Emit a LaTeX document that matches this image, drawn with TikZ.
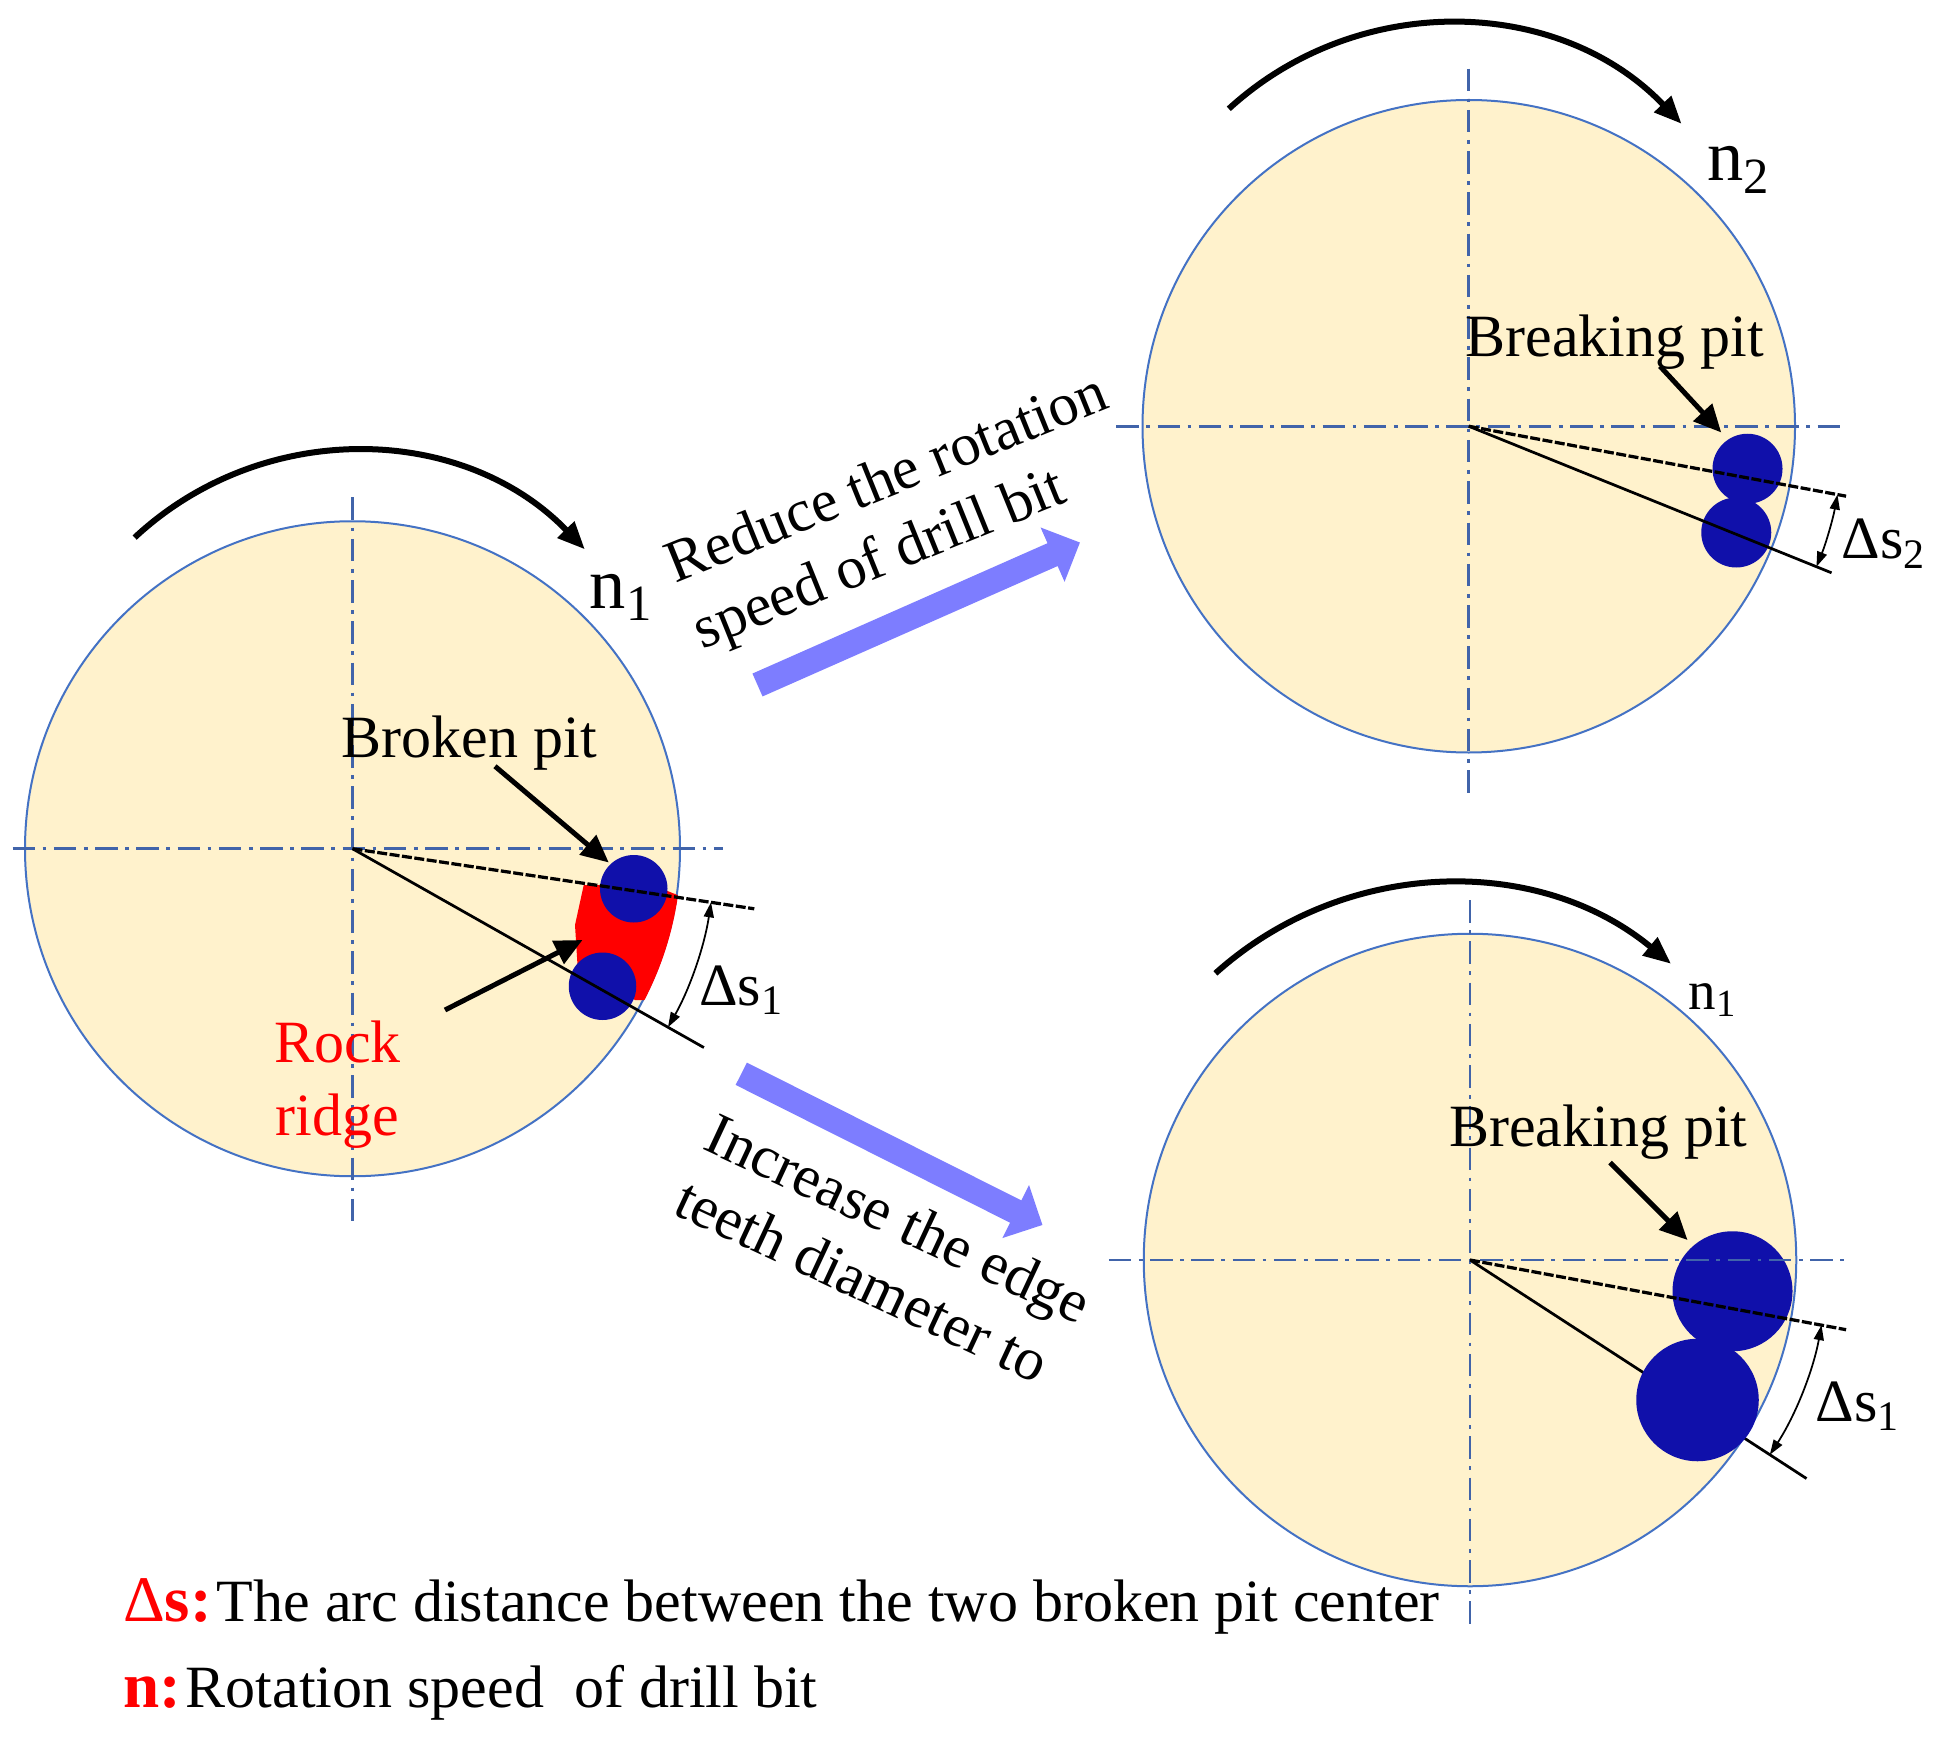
\documentclass[tikz,border=0pt]{standalone}
\usepackage{fontspec}
\setmainfont{Liberation Serif}
\usetikzlibrary{arrows.meta}
\definecolor{cream}{RGB}{255,242,204}
\definecolor{rim}{RGB}{68,114,196}
\definecolor{axisblue}{RGB}{65,100,170}
\definecolor{pitblue}{RGB}{16,16,170}
\definecolor{fatblue}{RGB}{125,125,255}
\newcommand\mylegkey{\fontsize{26}{28}\selectfont}
\begin{document}
\begin{tikzpicture}[x=0.5pt,y=-0.5pt,
  disk/.style={fill=cream, draw=rim, line width=0.8pt},
  centerline/.style={draw=axisblue, line width=1.1pt, dash pattern=on 9pt off 3pt on 1.5pt off 3pt},
  radial/.style={draw=black, line width=1.1pt},
  radialdash/.style={draw=black, line width=1.3pt, dash pattern=on 4pt off 1pt},
  pitfill/.style={fill=pitblue},
  rotarrow/.style={draw=black, line width=2.4pt, -{Triangle[length=11pt,width=9pt]}},
  lblarrow/.style={draw=black, line width=2pt, -{Triangle[length=11pt,width=10pt]}},
  dimarrow/.style={draw=black, line width=0.7pt, {Triangle[length=6pt,width=4pt]}-{Triangle[length=6pt,width=4pt]}},
  fatarrow/.style={draw=fatblue, line width=10pt, -{Triangle[length=12pt,width=23pt]}},
  txt/.style={font=\fontsize{24}{28.5}\selectfont, inner sep=0pt},
  bigtxt/.style={font=\fontsize{29}{32}\selectfont, inner sep=0pt},
]
\useasboundingbox (0,0) rectangle (1562.4,1390.4);

% ================= circle 1 =================
\coordinate (c1) at (282,679);
\draw[disk] (c1) circle[radius=262];
\begin{scope}
  \clip (c1) circle[radius=263];
  \fill[red] (467,708) -- (522,708) -- (552,720) -- (552,800) -- (508,800) -- (462,772) -- (460,740) -- cycle;
\end{scope}
\coordinate (p1a) at (507,711);
\coordinate (p1b) at (482,789);
\fill[pitfill] (p1a) circle[radius=27];
\fill[pitfill] (p1b) circle[radius=27];
\draw[centerline] (10,679) -- (578,679);
\draw[centerline] (282,398) -- (282,977);
\draw[radialdash] (c1) -- ++(8.5:325);
\draw[radial] (c1) -- ++(29.5:323);
\draw[dimarrow] (c1) ++(8.5:290) arc[start angle=8.5, end angle=29.5, radius=290];
\node[txt, anchor=base west] (ds1) at (559,804) {Δs\textsubscript{1}};
\node[txt, anchor=base west] (bp1) at (273,606) {Broken pit};
\coordinate (bp1s) at (396,613);
\coordinate (bp1e) at (487,690);
\draw[lblarrow] (bp1s) -- (bp1e);
\node[txt, text=red, anchor=base] (rk) at (270,850) {Rock};
\node[txt, text=red, anchor=base] (rg) at (270,908) {ridge};
\coordinate (rks) at (356,808);
\coordinate (rke) at (466,752);
\draw[lblarrow] (rks) -- (rke);
\coordinate (o1) at (283,618);
\draw[rotarrow] (o1) ++(-133:257) arc[start angle=-133, end angle=-44, radius=257];
\node[bigtxt] (n1a) at (497,478) {n\textsubscript{1}};

% ================= circle 2 =================
\coordinate (c2) at (1175,341);
\draw[disk] (c2) circle[radius=261];
\coordinate (p2a) at (1398,375);
\coordinate (p2b) at (1389,426);
\fill[pitfill] (p2a) circle[radius=28];
\fill[pitfill] (p2b) circle[radius=28];
\draw[centerline] (893,341) -- (1475,341);
\draw[centerline] (1175,55) -- (1175,635);
\draw[radialdash] (c2) -- ++(10.5:307);
\draw[radial] (c2) -- ++(22:313);
\draw[dimarrow] (c2) ++(10.5:300) arc[start angle=10.5, end angle=22, radius=300];
\node[txt, anchor=base west] (ds2) at (1473,447) {Δs\textsubscript{2}};
\node[txt, anchor=base west] (bp2) at (1172,285) {Breaking pit};
\coordinate (bp2s) at (1328,293);
\coordinate (bp2e) at (1377,346);
\draw[lblarrow] (bp2s) -- (bp2e);
\coordinate (o2) at (1158,278);
\draw[rotarrow] (o2) ++(-132.5:259) arc[start angle=-132.5, end angle=-43.7, radius=259];
\node[bigtxt] (n2a) at (1391,136) {n\textsubscript{2}};

% ================= circle 3 =================
\coordinate (c3) at (1176,1008);
\draw[disk] (c3) circle[radius=261];
\draw[radial] (c3) -- ++(33:321);
\coordinate (p3a) at (1386,1033);
\coordinate (p3b) at (1358,1120);
\fill[pitfill] (p3a) circle[radius=48];
\fill[pitfill] (p3b) circle[radius=49];
\draw[centerline] (887,1008) -- (1478,1008);
\draw[centerline] (1176,720) -- (1176,1302);
\draw[radialdash] (c3) -- ++(10.5:306);
\draw[dimarrow] (c3) ++(10.5:286) arc[start angle=10.5, end angle=33, radius=286];
\node[txt, anchor=base west] (ds3) at (1452,1137) {Δs\textsubscript{1}};
\node[txt, anchor=base west] (bp3) at (1159,917) {Breaking pit};
\coordinate (bp3s) at (1288,930);
\coordinate (bp3e) at (1350,992);
\draw[lblarrow] (bp3s) -- (bp3e);
\coordinate (o3) at (1159,986);
\draw[rotarrow] (o3) ++(-132:279) arc[start angle=-132, end angle=-50.4, radius=279];
\node[font=\fontsize{22}{24}\selectfont, inner sep=0pt] (n1b) at (1370,800) {n\textsubscript{1}};

% ================= transition arrows =================
\coordinate (f1s) at (606,548);
\coordinate (f1e) at (864,434);
\draw[fatarrow] (f1s) -- (f1e);
\coordinate (f2s) at (593,859);
\coordinate (f2e) at (834,980);
\draw[fatarrow] (f2s) -- (f2e);
\node[txt, align=left, anchor=north west, rotate=22] (t1) at (527.7,435.6) {Reduce the rotation\\speed of drill bit};
\node[txt, align=left, anchor=north west, rotate=-25] (t2) at (574.9,888.3) {Increase the edge\\teeth diameter to};

% ================= legend =================
\node[txt, anchor=base west] (lg1) at (98,1297) {\textcolor{red}{\mylegkey Δ\bfseries s:}\hspace{2pt}The arc distance between the two broken pit center};
\node[txt, anchor=base west] (lg2) at (98,1366) {\textcolor{red}{\mylegkey\bfseries n:}\hspace{2pt}Rotation speed\ \ of drill bit};
\end{tikzpicture}
\end{document}
